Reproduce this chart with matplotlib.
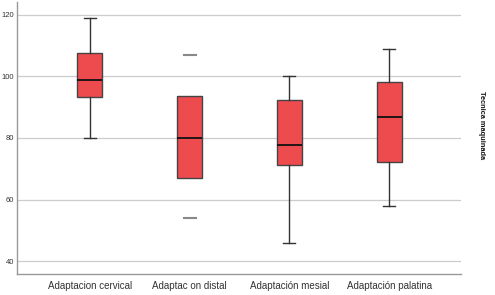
import matplotlib
matplotlib.use("Agg")
import matplotlib.pyplot as plt

categories = ["Adaptacion cervical", "Adaptac on distal", "Adaptación mesial", "Adaptación palatina"]
whislo = [80, 54, 46, 58]
q1 = [93.3, 66.9, 71.3, 72.3]
med = [98.8, 80.0, 77.6, 86.8]
q3 = [107.7, 93.6, 92.3, 98.2]
whishi = [119, 107, 100, 109]
yticks = [40, 60, 80, 100, 120]
side_label = "Tecnica maquinada"

plt.rcParams['font.family'] = ['Liberation Sans', 'DejaVu Sans']

fig = plt.figure(figsize=(4.95, 2.95), dpi=100)
ax = fig.add_axes([17/495, 1-274/295, (461-17)/495, (274-2)/295])

stats = []
for i, c in enumerate(categories):
    stats.append(dict(label=c, whislo=whislo[i], q1=q1[i], med=med[i], q3=q3[i], whishi=whishi[i], fliers=[]))

bp = ax.bxp(stats, positions=range(len(categories)), widths=0.25, patch_artist=True,
            showfliers=False, capwidths=0.12,
            boxprops=dict(facecolor="#EE4B4F", edgecolor="#444444", linewidth=1.0),
            medianprops=dict(color="#111111", linewidth=1.3),
            whiskerprops=dict(color="#333333", linewidth=1.0),
            capprops=dict(color="#333333", linewidth=1.0))
# distal group: whisker lines not drawn in reference, gray caps
for w in bp['whiskers'][2:4]:
    w.set_visible(False)
for cp in bp['caps'][2:4]:
    cp.set_color("#888888")
    cp.set_linewidth(1.5)

ax.set_xlim(-0.73, 3.72)
ax.set_ylim(35.8, 124.2)
ax.set_yticks(yticks)
ax.set_yticklabels([str(v) for v in yticks], fontsize=5.5, color="#333333")
ax.yaxis.grid(True, color="#cccccc", linewidth=0.9)
ax.set_axisbelow(True)
ax.tick_params(axis='both', length=0, pad=2)
ax.tick_params(axis='x', labelsize=7, pad=5)
for t in ax.get_xticklabels():
    t.set_color("#333333")
for s in ['top', 'right']:
    ax.spines[s].set_visible(False)
for s in ['left', 'bottom']:
    ax.spines[s].set_color("#999999")
    ax.spines[s].set_linewidth(1.0)

fig.text(481/495, 1-125/295, side_label, rotation=-90, ha='center', va='center',
         fontsize=5.3, fontweight='bold', color="#111111")

fig.savefig("out.png", dpi=100)
